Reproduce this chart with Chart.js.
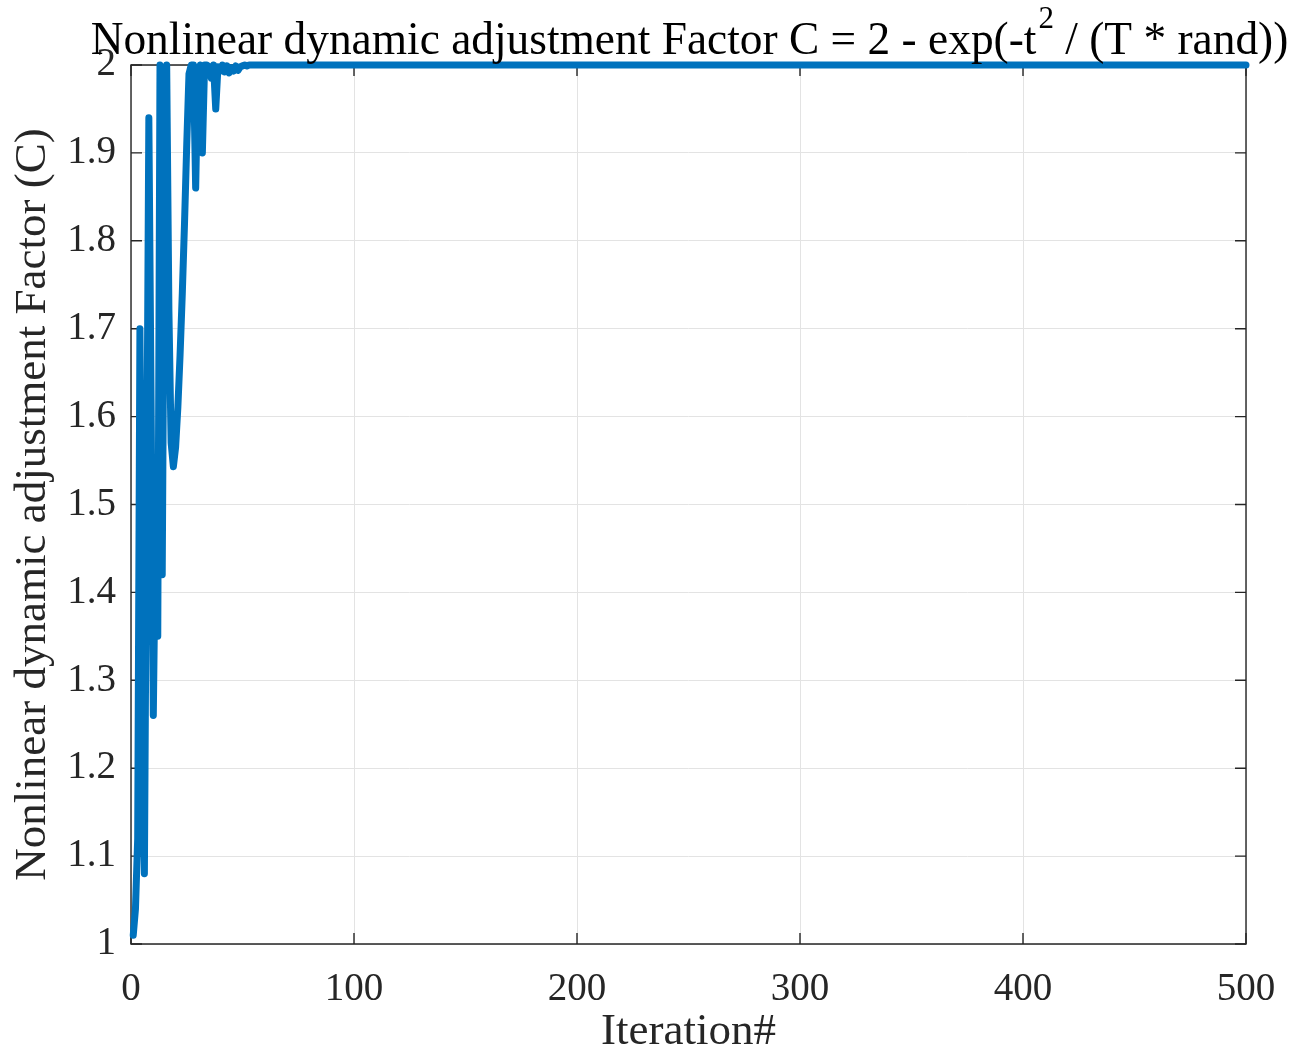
<!DOCTYPE html>
<html>
<head>
<meta charset="utf-8">
<script src="https://cdn.jsdelivr.net/npm/chart.js@4/dist/chart.umd.min.js"></script>
<style>
  html, body { margin: 0; padding: 0; background: #ffffff; }
  #wrap { width: 1305px; height: 1055px; position: relative; }
</style>
</head>
<body>
<div id="wrap"><canvas id="c"></canvas></div>
<script>
// ---- data ----
const iterations = [
  1, 2, 3, 4, 5, 6, 7, 8, 9, 10,
  11, 12, 13, 14, 15, 16, 17, 18, 19, 20,
  21, 22, 23, 24, 25, 26, 27, 28, 29, 30,
  31, 32, 33, 34, 35, 36, 37, 38, 39, 40,
  41, 42, 43, 44, 45, 46, 47, 48, 49, 50,
  51, 52, 53, 54, 55, 500
];
const factorC = [
  1.01, 1.04, 1.12, 1.70, 1.37, 1.08, 1.50, 1.94, 1.62, 1.26,
  1.47, 1.35, 2.00, 1.42, 1.85, 2.00, 1.72, 1.57, 1.543, 1.565,
  1.61, 1.67, 1.74, 1.82, 1.91, 1.99, 2.00, 2.00, 1.86, 1.99,
  2.00, 1.90, 2.00, 2.00, 1.998, 1.985, 2.00, 1.95, 1.998, 1.993,
  2.00, 1.992, 1.999, 1.991, 1.997, 1.993, 1.999, 1.994, 1.998, 1.999,
  2.00, 1.999, 2.00, 2.00, 2.00, 2.00
];
const xTickValues = [0, 100, 200, 300, 400, 500];
const yTickValues = [1, 1.1, 1.2, 1.3, 1.4, 1.5, 1.6, 1.7, 1.8, 1.9, 2];
const yTickLabels = ['1', '1.1', '1.2', '1.3', '1.4', '1.5', '1.6', '1.7', '1.8', '1.9', '2'];
const titleMain = 'Nonlinear dynamic adjustment Factor C = 2 - exp(-t';
const titleSup = '2';
const titleTail = ' / (T * rand))';
const xAxisTitle = 'Iteration#';
const yAxisTitle = 'Nonlinear dynamic adjustment Factor (C)';

const FONT = '"Liberation Serif", "Times New Roman", serif';
const AXIS_COLOR = '#262626';
const TICK_LEN = 11;

const points = iterations.map((t, i) => ({ x: t, y: factorC[i] }));

const frame = {
  id: 'frame',
  beforeDatasetsDraw(chart) {
    const { ctx, chartArea: a, scales: { x, y } } = chart;
    ctx.save();
    ctx.strokeStyle = AXIS_COLOR;
    ctx.lineWidth = 1.4;
    ctx.beginPath();
    ctx.rect(a.left, a.top, a.right - a.left, a.bottom - a.top);
    ctx.stroke();
    ctx.beginPath();
    xTickValues.forEach(v => {
      const px = x.getPixelForValue(v);
      ctx.moveTo(px, a.bottom); ctx.lineTo(px, a.bottom - TICK_LEN);
      ctx.moveTo(px, a.top); ctx.lineTo(px, a.top + TICK_LEN);
    });
    yTickValues.forEach(v => {
      const py = y.getPixelForValue(v);
      ctx.moveTo(a.left, py); ctx.lineTo(a.left + TICK_LEN, py);
      ctx.moveTo(a.right, py); ctx.lineTo(a.right - TICK_LEN, py);
    });
    ctx.stroke();
    ctx.restore();
  },
  afterDraw(chart) {
    const { ctx, chartArea: a } = chart;
    ctx.save();
    ctx.fillStyle = '#000000';
    ctx.textBaseline = 'alphabetic';
    const mainFont = '45.4px ' + FONT;
    const supFont = '31px ' + FONT;
    ctx.font = mainFont;
    const w1 = ctx.measureText(titleMain).width;
    const w3 = ctx.measureText(titleTail).width;
    ctx.font = supFont;
    const w2 = ctx.measureText(titleSup).width;
    const total = w1 + w2 + w3;
    const cx = (a.left + a.right) / 2;
    let sx = cx - total / 2;
    const baseY = 54;
    ctx.textAlign = 'left';
    ctx.font = mainFont;
    ctx.fillText(titleMain, sx, baseY);
    ctx.font = supFont;
    ctx.fillText(titleSup, sx + w1 + 2, baseY - 26);
    ctx.font = mainFont;
    ctx.fillText(titleTail, sx + w1 + w2 + 2, baseY);
    ctx.restore();
  }
};

new Chart(document.getElementById('c'), {
  type: 'line',
  data: {
    datasets: [{
      data: points,
      borderColor: '#0072BD',
      backgroundColor: '#0072BD',
      borderWidth: 7,
      pointRadius: 0,
      tension: 0,
      fill: false,
      clip: false,
      borderJoinStyle: 'round',
      borderCapStyle: 'round'
    }]
  },
  options: {
    responsive: true,
    maintainAspectRatio: false,
    animation: false,
    events: [],
    layout: { padding: { top: 65, right: 59, bottom: 0, left: 0 } },
    plugins: { legend: { display: false }, tooltip: { enabled: false }, title: { display: false } },
    scales: {
      x: {
        type: 'linear',
        min: 0, max: 500,
        afterFit(s) { s.height = 111; },
        afterBuildTicks(s) { s.ticks = xTickValues.map(v => ({ value: v })); },
        grid: { color: '#e3e3e3', lineWidth: 1, drawTicks: false },
        border: { display: false },
        ticks: {
          color: '#262626',
          padding: 22,
          maxRotation: 0,
          font: { family: FONT, size: 39 },
          callback: v => String(v)
        },
        title: {
          display: true, text: xAxisTitle, color: '#262626',
          font: { family: FONT, size: 45, lineHeight: 1 },
          padding: { top: 0, bottom: 0 }
        }
      },
      y: {
        type: 'linear',
        min: 1, max: 2,
        afterFit(s) { s.width = 131; },
        afterBuildTicks(s) { s.ticks = yTickValues.map(v => ({ value: v })); },
        grid: { color: '#e3e3e3', lineWidth: 1, drawTicks: false },
        border: { display: false },
        ticks: {
          color: '#262626',
          padding: 15,
          font: { family: FONT, size: 39 },
          callback: (v) => {
            const i = yTickValues.findIndex(t => Math.abs(t - v) < 1e-6);
            return i >= 0 ? yTickLabels[i] : '';
          }
        },
        title: {
          display: true, text: yAxisTitle, color: '#262626',
          font: { family: FONT, size: 45, lineHeight: 1 },
          padding: { top: 11, bottom: 0 }
        }
      }
    }
  },
  plugins: [frame]
});
</script>
</body>
</html>
